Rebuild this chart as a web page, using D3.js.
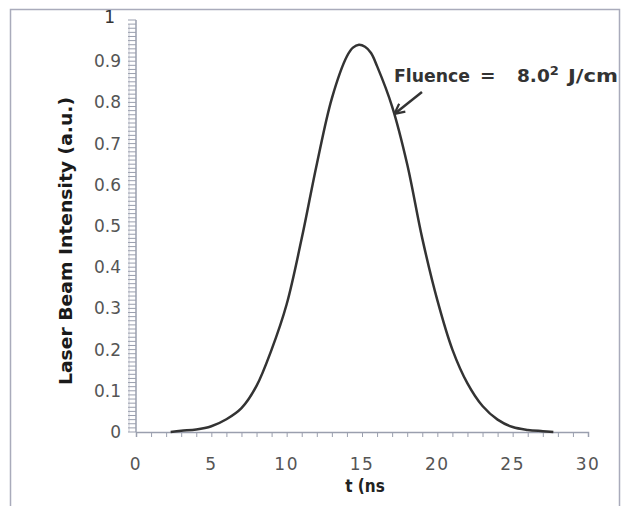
<!DOCTYPE html>
<html>
<head>
<meta charset="utf-8">
<script src="https://cdn.jsdelivr.net/npm/d3@7"></script>
<style>
  body { margin: 0; background: #fff; }
  svg { display: block; }
</style>
</head>
<body>
<svg id="chart"></svg>
<script>
// pulse shape
const times = [2.3, 3, 4, 5, 6, 7, 8, 9, 10, 11, 12, 13, 14, 14.4, 14.8, 15.2, 15.6, 16, 17, 18, 19, 20, 21, 22, 23, 24, 25, 26, 27, 27.7]
const intensity = [0, 0.003, 0.006, 0.014, 0.031, 0.058, 0.112, 0.2, 0.31, 0.47, 0.65, 0.81, 0.912, 0.933, 0.94, 0.935, 0.92, 0.888, 0.79, 0.65, 0.47, 0.32, 0.2, 0.118, 0.063, 0.03, 0.012, 0.005, 0.002, 0]

const xTickLabels = [0, 5, 10, 15, 20, 25, 30]
const yTickLabels = [0, 0.1, 0.2, 0.3, 0.4, 0.5, 0.6, 0.7, 0.8, 0.9, 1]

const config = {
    width: 622,
    height: 506,
    colors: { axis: "#9a9fae", label: "#555", curve: "#333", frame: "#a9abbb" }
}

const svg = d3.select("svg#chart")
    .attr("width", config.width)
    .attr("height", config.height)

const x = d3.scaleLinear().domain([0, 30]).range([136, 588])
const y = d3.scaleLinear().domain([0, 1]).range([432, 20])

// outer frame of the scanned figure
svg.append("path")
    .attr("d", "M10.5,520 L10.5,9.5 L619.5,9.5 L619.5,520")
    .style("fill", "none")
    .style("stroke", config.colors.frame)
    .style("stroke-width", 1.5)

// y axis: fine ladder of ticks every 0.01
const yAxis = svg.append("g").attr("transform", `translate(${x(0)},0)`)
yAxis.append("line")
    .attr("y1", y(1)).attr("y2", y(0))
    .style("stroke", config.colors.axis).style("stroke-width", 1.5)
yAxis.append("line")
    .attr("x1", -7).attr("x2", -7)
    .attr("y1", y(0.99)).attr("y2", y(0))
    .style("stroke", "#c8cad4").style("stroke-width", 1)
yAxis.selectAll("line.minor")
    .data(d3.range(0, 101).map(i => i / 100))
    .join("line")
    .attr("class", "minor")
    .attr("x1", -8).attr("x2", 0)
    .attr("y1", d => y(d)).attr("y2", d => y(d))
    .style("stroke", config.colors.axis)
    .style("stroke-width", 1)

svg.append("g").selectAll("text")
    .data(yTickLabels)
    .join("text")
    .attr("x", d => d === 1 ? 115 : 121)
    .attr("y", d => y(d))
    .attr("dy", d => d === 1 ? "0.15em" : "0.35em")
    .attr("text-anchor", "end")
    .style("font-family", "DejaVu Sans, sans-serif")
    .style("font-size", "17px")
    .style("fill", d => d === 1 ? "#333" : config.colors.label)
    .text(d => d === 1 ? "1" : d3.format(".1f")(d).replace(/^0\.0$/, "0"))

// x axis with a tick for every ns
const xAxis = svg.append("g").attr("transform", `translate(0,${y(0)})`)
    .call(d3.axisBottom(x).tickValues(d3.range(0, 31)).tickSize(5).tickFormat(""))
xAxis.select(".domain").style("stroke", config.colors.axis).style("stroke-width", 1.5)
xAxis.selectAll(".tick line").style("stroke", config.colors.axis)

svg.append("g").selectAll("text")
    .data(xTickLabels)
    .join("text")
    .attr("x", d => x(d))
    .attr("y", 470)
    .attr("text-anchor", "middle")
    .style("font-family", "DejaVu Sans, sans-serif")
    .style("font-size", "17px")
    .style("letter-spacing", "1.5px")
    .style("fill", config.colors.label)
    .text(d => d)

// axis titles
svg.append("text")
    .attr("x", 365).attr("y", 492)
    .attr("text-anchor", "middle")
    .style("font-family", "DejaVu Sans Condensed, DejaVu Sans, sans-serif")
    .style("font-weight", "bold")
    .style("font-size", "17px")
    .style("fill", "#222")
    .text("t  (ns")

svg.append("text")
    .attr("transform", `translate(72,241) rotate(-90)`)
    .attr("text-anchor", "middle")
    .attr("textLength", 288)
    .attr("lengthAdjust", "spacingAndGlyphs")
    .style("font-family", "DejaVu Sans, sans-serif")
    .style("font-weight", "900")
    .style("font-size", "17px")
    .style("fill", "#1a1a1a")
    .text("Laser Beam Intensity (a.u.)")

// pulse curve
const pulse = times.map((t, i) => ({ t: t, v: intensity[i] }))
svg.append("path")
    .datum(pulse)
    .attr("d", d3.line().x(d => x(d.t)).y(d => y(d.v)).curve(d3.curveCatmullRom.alpha(0.5)))
    .style("fill", "none")
    .style("stroke", config.colors.curve)
    .style("stroke-width", 2.5)
    .style("stroke-linejoin", "round")

// annotation
svg.append("defs").append("marker")
    .attr("id", "head")
    .attr("viewBox", "0 0 12 12")
    .attr("refX", 11).attr("refY", 6)
    .attr("markerWidth", 12).attr("markerHeight", 12)
    .attr("markerUnits", "userSpaceOnUse")
    .attr("orient", "auto")
    .append("path")
    .attr("d", "M1,1 L11,6 L1,11")
    .style("fill", "none")
    .style("stroke", "#333")
    .style("stroke-width", 2.2)

svg.append("line")
    .attr("x1", x(18.98)).attr("y1", y(0.825))
    .attr("x2", x(17.15)).attr("y2", y(0.772))
    .attr("marker-end", "url(#head)")
    .style("stroke", "#333")
    .style("stroke-width", 2.5)

const noteY = y(0.85)
const note = svg.append("text")
    .attr("y", noteY)
    .style("font-family", "DejaVu Sans, sans-serif")
    .style("font-weight", "600")
    .style("font-size", "18.5px")
    .style("fill", "#333")
note.append("tspan").attr("x", 394).attr("textLength", 76).attr("lengthAdjust", "spacingAndGlyphs").text("Fluence")
note.append("tspan").attr("x", 480).text("=")
note.append("tspan").attr("x", 517).text("8.0")
note.append("tspan").attr("dy", -7).style("font-size", "13px").text("2")
note.append("tspan").attr("x", 568).attr("dy", 7).attr("textLength", 50).attr("lengthAdjust", "spacingAndGlyphs").text("J/cm")
</script>
</body>
</html>
